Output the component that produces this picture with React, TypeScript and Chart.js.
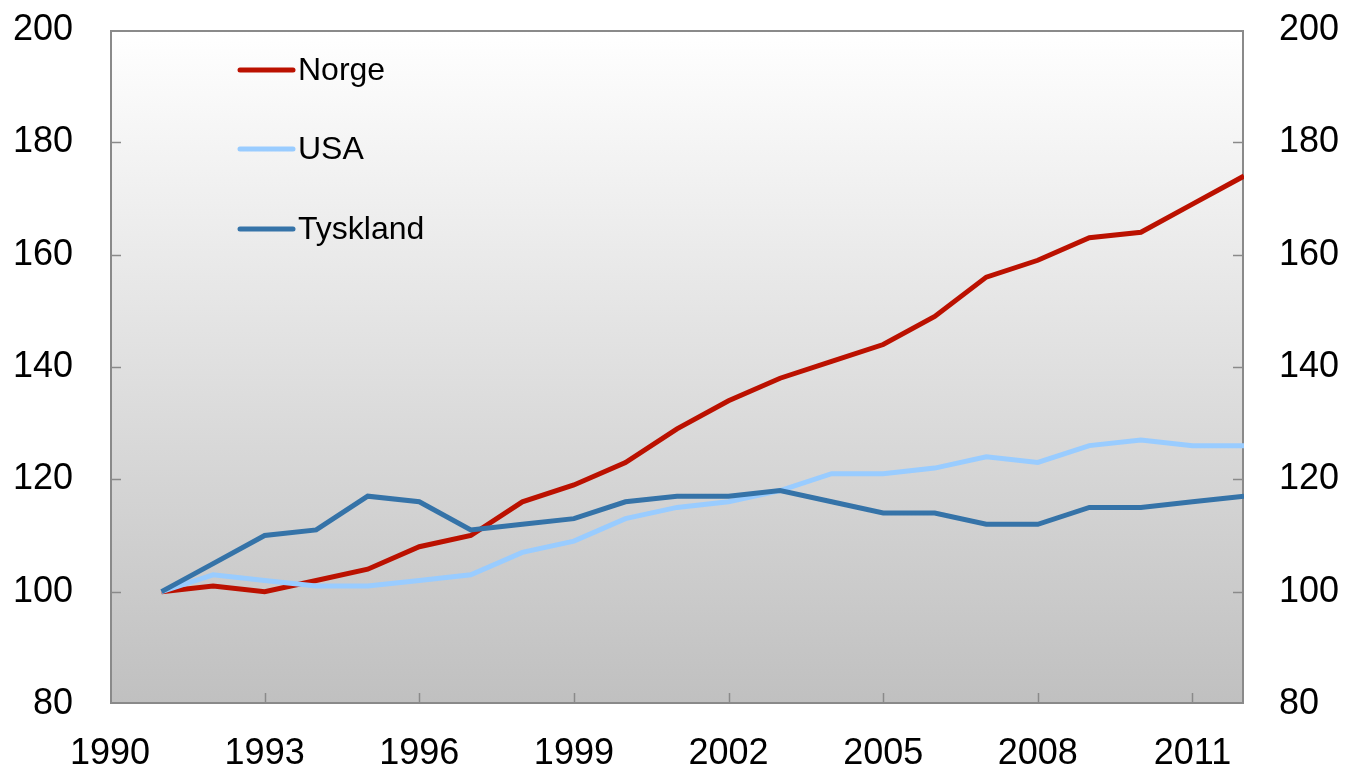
import React, { useEffect, useRef } from "react";
import { Chart, registerables } from "chart.js";

Chart.register(...registerables);

const years = [1991, 1992, 1993, 1994, 1995, 1996, 1997, 1998, 1999, 2000, 2001, 2002, 2003, 2004, 2005, 2006, 2007, 2008, 2009, 2010, 2011, 2012];
const norge = [100, 101, 100, 102, 104, 108, 110, 116, 119, 123, 129, 134, 138, 141, 144, 149, 156, 159, 163, 164, 169, 174];
const usa = [100, 103, 102, 101, 101, 102, 103, 107, 109, 113, 115, 116, 118, 121, 121, 122, 124, 123, 126, 127, 126, 126];
const tyskland = [100, 105, 110, 111, 117, 116, 111, 112, 113, 116, 117, 117, 118, 116, 114, 114, 112, 112, 115, 115, 116, 117];
const xTickYears = [1990, 1993, 1996, 1999, 2002, 2005, 2008, 2011];
const yTickValues = [80, 100, 120, 140, 160, 180, 200];
const seriesNames = ["Norge", "USA", "Tyskland"];

const FONT = "'Liberation Sans', Arial, sans-serif";

const toPoints = (vals: number[]) => years.map((y, i) => ({ x: y, y: vals[i] }));

const framePlugin = {
  id: "frame",
  beforeDraw(chart: any) {
    const { ctx, chartArea: a } = chart;
    const g = ctx.createLinearGradient(0, a.top, 0, a.bottom);
    g.addColorStop(0, "#ffffff");
    g.addColorStop(1, "#c0c0c0");
    ctx.save();
    ctx.fillStyle = g;
    ctx.fillRect(a.left, a.top, a.right - a.left, a.bottom - a.top);
    ctx.restore();
  },
  beforeDatasetsDraw(chart: any) {
    const { ctx, chartArea: a, scales } = chart;
    ctx.save();
    ctx.strokeStyle = "#8a8a8a";
    ctx.lineWidth = 1.5;
    const tl = 11;
    ctx.beginPath();
    for (const v of yTickValues) {
      const py = Math.round(scales.y.getPixelForValue(v)) + 0.5;
      if (py <= a.top + 3 || py >= a.bottom - 3) continue;
      ctx.moveTo(a.left, py);
      ctx.lineTo(a.left + tl, py);
      const py2 = Math.round(scales.y2.getPixelForValue(v)) + 0.5;
      ctx.moveTo(a.right, py2);
      ctx.lineTo(a.right - tl, py2);
    }
    for (const v of xTickYears) {
      const px = Math.round(scales.x.getPixelForValue(v)) + 0.5;
      if (px <= a.left + 3 || px >= a.right - 3) continue;
      ctx.moveTo(px, a.bottom);
      ctx.lineTo(px, a.bottom - tl);
    }
    ctx.stroke();
    ctx.lineWidth = 2;
    ctx.strokeRect(a.left + 1, a.top + 1, a.right - a.left - 2, a.bottom - a.top - 2);
    ctx.restore();
  },
  afterDraw(chart: any) {
    const { ctx } = chart;
    const ys = [70, 149, 229];
    ctx.save();
    chart.data.datasets.forEach((ds: any, i: number) => {
      ctx.strokeStyle = ds.borderColor;
      ctx.lineWidth = 5;
      ctx.lineCap = "round";
      ctx.beginPath();
      ctx.moveTo(240, ys[i]);
      ctx.lineTo(293, ys[i]);
      ctx.stroke();
      ctx.fillStyle = "#000";
      ctx.font = `32px ${FONT}`;
      ctx.textBaseline = "middle";
      ctx.textAlign = "left";
      ctx.fillText(ds.label, 298, ys[i] + 1);
    });
    ctx.restore();
  },
};

export default function App() {
  const ref = useRef<HTMLCanvasElement | null>(null);
  useEffect(() => {
    if (!ref.current) return;
    const yAxisBase = (pos: string, width: number, pad: number) => ({
      type: "linear",
      position: pos,
      min: 80,
      max: 200,
      afterBuildTicks: (s: any) => {
        s.ticks = yTickValues.map((v) => ({ value: v }));
      },
      afterFit: (s: any) => {
        s.width = width;
        s.paddingTop = 0;
        s.paddingBottom = 0;
      },
      grid: { display: false, drawTicks: false, tickLength: 0 },
      border: { display: false },
      ticks: {
        color: "#000",
        padding: pad,
        font: { family: FONT, size: 36 },
      },
    });
    const chart = new Chart(ref.current, {
      type: "line",
      data: {
        datasets: [
          { label: seriesNames[0], data: toPoints(norge), borderColor: "#bb1100", borderWidth: 5, pointRadius: 0, order: 2, yAxisID: "y" },
          { label: seriesNames[1], data: toPoints(usa), borderColor: "#99ccff", borderWidth: 5, pointRadius: 0, order: 1, yAxisID: "y" },
          { label: seriesNames[2], data: toPoints(tyskland), borderColor: "#3573a8", borderWidth: 5, pointRadius: 0, order: 0, yAxisID: "y" },
        ],
      },
      options: {
        animation: false,
        responsive: false,
        devicePixelRatio: 1,
        layout: { padding: { top: 30, left: 0, right: 0, bottom: 0 } },
        plugins: { legend: { display: false }, tooltip: { enabled: false } },
        scales: {
          x: {
            type: "linear",
            position: "bottom",
            min: 1990,
            max: 2012,
            afterBuildTicks: (s: any) => {
              s.ticks = xTickYears.map((v) => ({ value: v }));
            },
            afterFit: (s: any) => {
              s.height = 66;
            },
            grid: { display: false, drawTicks: false, tickLength: 0 },
            border: { display: false },
            ticks: {
              color: "#000",
              padding: 28,
              maxRotation: 0,
              autoSkip: false,
              font: { family: FONT, size: 36 },
              callback: (v: any) => String(v),
            },
          },
          y: yAxisBase("left", 110, 37) as any,
          y2: yAxisBase("right", 101, 35) as any,
        },
      } as any,
      plugins: [framePlugin],
    });
    return () => chart.destroy();
  }, []);
  return (
    <div style={{ position: "absolute", left: 0, top: 0, width: 1345, height: 770, background: "#fff" }}>
      <canvas ref={ref} width={1345} height={770} style={{ display: "block" }} />
    </div>
  );
}
